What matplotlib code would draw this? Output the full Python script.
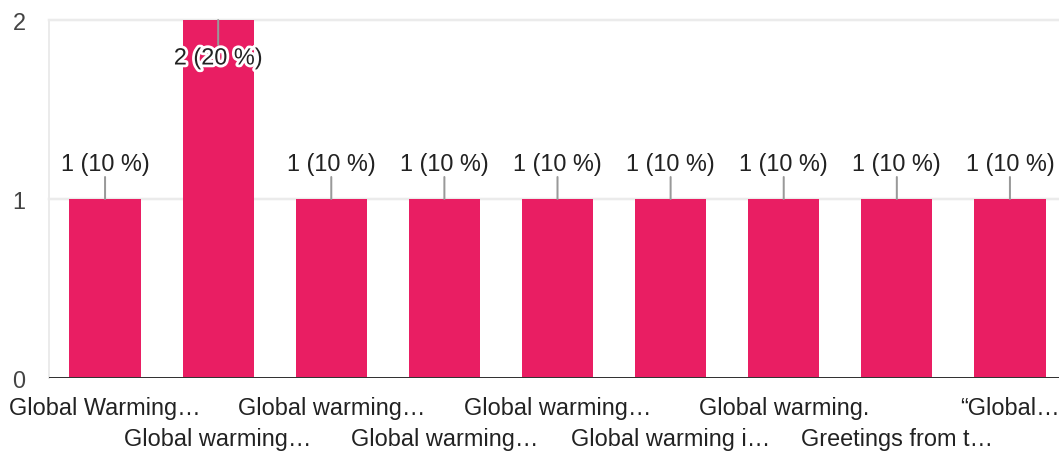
import matplotlib
matplotlib.use("Agg")
import matplotlib.pyplot as plt
import matplotlib.patheffects as pe

categories = ["Global Warming…", "Global warming…", "Global warming…", "Global warming…",
              "Global warming…", "Global warming i…", "Global warming.", "Greetings from t…",
              "“Global…"]
counts = [1, 2, 1, 1, 1, 1, 1, 1, 1]
percents = [10, 20, 10, 10, 10, 10, 10, 10, 10]
yticks = [0, 1, 2]

plt.rcParams['font.family'] = ['Liberation Sans', 'DejaVu Sans']
PX = 0.72  # points per pixel at dpi 100
FS = 23.5 * PX

fig = plt.figure(figsize=(10.59, 4.52), dpi=100)
W, H = 1059, 452
ax = fig.add_axes([48.5 / W, (H - 379) / H, (1066.5 - 48.5) / W, (379 - 21) / H])

x = list(range(len(categories)))
ax.bar(x, counts, width=0.63, color="#E91E63", zorder=2)
ax.set_xlim(-0.5, len(categories) - 0.5)
ax.set_ylim(0, 2)

for s in ["top", "right", "bottom"]:
    ax.spines[s].set_visible(False)
ax.spines["left"].set_color("#ebebeb")
ax.spines["left"].set_linewidth(2 * PX)
ax.set_yticks(yticks)
ax.set_yticklabels([str(t) for t in yticks], fontsize=FS, color="#444444")
ax.tick_params(axis="y", length=0, pad=23 * PX)
ax.set_xticks([])
for t in yticks[1:]:
    ax.axhline(t, color="#ebebeb", linewidth=2.5 * PX, zorder=1, clip_on=False)
ax.axhline(0, color="#333333", linewidth=3 * PX, zorder=3)

ymax = max(counts)
for i, (c, p) in enumerate(zip(counts, percents)):
    label = f"{c} ({p} %)"
    if c >= ymax:
        ax.annotate("", xy=(i, c), xycoords="data", xytext=(0, -25 * PX), textcoords="offset points",
                    arrowprops=dict(arrowstyle="-", color="#999999", lw=2 * PX, shrinkA=0, shrinkB=0), zorder=4)
        ax.annotate(label, xy=(i, c), xytext=(0, -38 * PX), textcoords="offset points",
                    ha="center", va="center", fontsize=FS, color="#222222", zorder=5,
                    path_effects=[pe.withStroke(linewidth=4, foreground="white")])
    else:
        ax.annotate("", xy=(i, c), xycoords="data", xytext=(0, 22 * PX), textcoords="offset points",
                    arrowprops=dict(arrowstyle="-", color="#999999", lw=2 * PX, shrinkA=0, shrinkB=0), zorder=4)
        ax.annotate(label, xy=(i, c), xytext=(0, 35 * PX), textcoords="offset points",
                    ha="center", va="center", fontsize=FS, color="#222222", zorder=5)

for i, name in enumerate(categories):
    off = 30 if i % 2 == 0 else 61
    ax.annotate(name, xy=(i, 0), xycoords=("data", "axes fraction"), xytext=(0, -off * PX),
                textcoords="offset points", ha="center", va="center", fontsize=FS,
                color="#222222", annotation_clip=False)

fig.savefig("out.png", dpi=100, facecolor="white")
